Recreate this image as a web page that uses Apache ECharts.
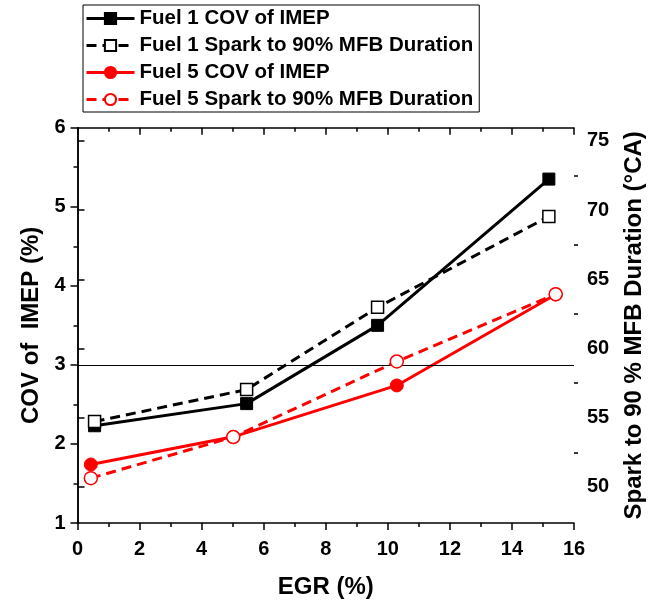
<!DOCTYPE html>
<html>
<head>
<meta charset="utf-8">
<script src="https://cdn.jsdelivr.net/npm/echarts@6/dist/echarts.min.js"></script>
<style>html,body{margin:0;padding:0;background:#fff;}#c{width:654px;height:604px;}</style>
</head>
<body>
<div id="c"></div>
<script>
const egrFuel1 = [0.55, 5.45, 9.67, 15.19];
const covFuel1 = [2.23, 2.51, 3.50, 5.35];
const durFuel1 = [54.72, 57.03, 62.97, 69.54];
const egrFuel5 = [0.43, 5.02, 10.29, 15.41];
const covFuel5 = [1.74, 2.09, 2.74, 3.89];
const durFuel5 = [50.63, 53.60, 59.06, 63.92];
const rightMajorTicks = [50, 55, 60, 65, 70, 75];
const rightMinorTicks = [52.5, 57.5, 62.5, 67.5, 72.5];
const refLineValue = 3;

const pairs = (xs, ys) => xs.map((x, i) => [x, ys[i]]);
const FONT = 'Liberation Sans, Arial, sans-serif';
const axisLine = {show: true, lineStyle: {color: '#000', width: 1.5}};
const lbl = {color: '#000', fontFamily: FONT, fontWeight: 'bold', fontSize: 20};
const nameStyle = {color: '#000', fontFamily: FONT, fontWeight: 'bold', fontSize: 24};

const chart = echarts.init(document.getElementById('c'), null, {renderer: 'canvas'});
chart.setOption({
  animation: false,
  backgroundColor: '#fff',
  grid: {left: 77.5, right: 78.5, top: 127.7, bottom: 75, containLabel: false},
  legend: {
    orient: 'vertical', left: 83, top: 5,
    borderColor: '#000', borderWidth: 1,
    padding: [3, 6, 2, 2], itemGap: 6,
    itemWidth: 48, itemHeight: 14,
    lineStyle: {width: 3},
    textStyle: {color: '#000', fontFamily: FONT, fontWeight: 'bold', fontSize: 20.5},
    data: ['Fuel 1 COV of IMEP', 'Fuel 1 Spark to 90% MFB Duration', 'Fuel 5 COV of IMEP', 'Fuel 5 Spark to 90% MFB Duration']
  },
  xAxis: [{
    type: 'value', min: 0, max: 16, interval: 2, position: 'bottom',
    name: 'EGR (%)', nameLocation: 'middle', nameGap: 52, nameTextStyle: nameStyle,
    axisLine: axisLine,
    axisTick: {show: true, length: 7, lineStyle: {color: '#000', width: 1.5}},
    minorTick: {show: true, splitNumber: 2, length: 4, lineStyle: {color: '#000', width: 1.5}},
    axisLabel: Object.assign({margin: 16}, lbl),
    splitLine: {show: false}
  }, {
    type: 'value', min: 0, max: 16, interval: 2, position: 'top',
    axisLine: axisLine,
    axisTick: {show: true, inside: true, length: 7, lineStyle: {color: '#000', width: 1.5}},
    minorTick: {show: true, splitNumber: 2, length: 4, lineStyle: {color: '#000', width: 1.5}},
    axisLabel: {show: false},
    splitLine: {show: false}
  }],
  yAxis: [{
    type: 'value', min: 1, max: 6, interval: 1, position: 'left',
    name: 'COV of  IMEP (%)', nameLocation: 'middle', nameGap: 25, nameRotate: 90, nameTextStyle: nameStyle,
    axisLine: axisLine,
    axisTick: {show: true, length: 7, lineStyle: {color: '#000', width: 1.5}},
    minorTick: {show: true, splitNumber: 2, length: 4, lineStyle: {color: '#000', width: 1.5}},
    axisLabel: Object.assign({margin: 12}, lbl),
    splitLine: {show: false}
  }, {
    type: 'value', min: 47.39, max: 75.95, position: 'right', offset: 0,
    name: 'Spark to 90 % MFB Duration (°CA)', nameLocation: 'middle', nameGap: 48, nameRotate: 90, nameTextStyle: nameStyle,
    axisLine: axisLine,
    axisTick: {show: true, length: 7, customValues: rightMajorTicks, lineStyle: {color: '#000', width: 1.5}},
    axisLabel: Object.assign({margin: 13, customValues: rightMajorTicks}, lbl),
    splitLine: {show: false}
  }, {
    type: 'value', min: 47.39, max: 75.95, position: 'right', offset: 0,
    axisLine: {show: false},
    axisTick: {show: true, length: 4, customValues: rightMinorTicks, lineStyle: {color: '#000', width: 1.5}},
    axisLabel: {show: false, customValues: rightMinorTicks},
    splitLine: {show: false}
  }],
  series: [{
    name: 'Fuel 1 COV of IMEP', type: 'line', xAxisIndex: 0, yAxisIndex: 0,
    data: pairs(egrFuel1, covFuel1),
    symbol: 'rect', symbolSize: 12,
    itemStyle: {color: '#000', borderColor: '#000', borderWidth: 1},
    lineStyle: {color: '#000', width: 3},
    markLine: {
      silent: true, symbol: 'none', animation: false,
      label: {show: false},
      lineStyle: {color: '#000', width: 1, type: 'solid'},
      data: [{yAxis: refLineValue}]
    },
    z: 2
  }, {
    name: 'Fuel 1 Spark to 90% MFB Duration', type: 'line', xAxisIndex: 0, yAxisIndex: 1,
    data: pairs(egrFuel1, durFuel1),
    symbol: 'rect', symbolSize: 12,
    itemStyle: {color: '#fff', borderColor: '#000', borderWidth: 1.5},
    lineStyle: {color: '#000', width: 3, type: [10, 6]},
    z: 3
  }, {
    name: 'Fuel 5 COV of IMEP', type: 'line', xAxisIndex: 0, yAxisIndex: 0,
    data: pairs(egrFuel5, covFuel5),
    symbol: 'circle', symbolSize: 13,
    itemStyle: {color: '#ff0000', borderColor: '#ff0000', borderWidth: 1},
    lineStyle: {color: '#ff0000', width: 3},
    z: 4
  }, {
    name: 'Fuel 5 Spark to 90% MFB Duration', type: 'line', xAxisIndex: 0, yAxisIndex: 1,
    data: pairs(egrFuel5, durFuel5),
    symbol: 'circle', symbolSize: 13,
    itemStyle: {color: '#fff', borderColor: '#ff0000', borderWidth: 1.5},
    lineStyle: {color: '#ff0000', width: 3, type: [10, 6]},
    z: 5
  }]
});
</script>
</body>
</html>
